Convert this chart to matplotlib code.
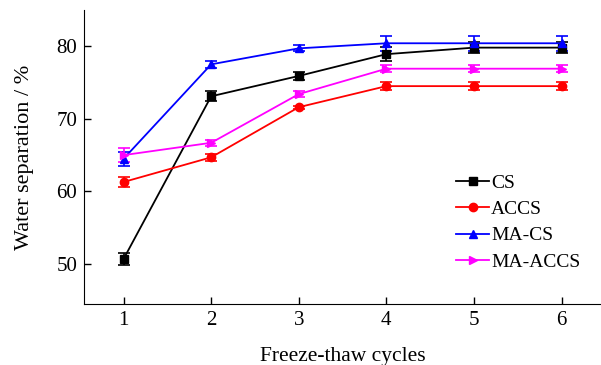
import matplotlib
matplotlib.use("Agg")
from matplotlib import pyplot as plt
from matplotlib.lines import Line2D

plt.rcParams.update({'font.family': 'Liberation Serif', 'font.size': 15,
                     'mathtext.default': 'regular'})

cycles = [1, 2, 3, 4, 5, 6]
cs = [50.7, 73.1, 75.9, 78.9, 79.8, 79.8]
cs_err = [0.8, 0.7, 0.5, 1.0, 0.8, 0.8]
accs = [61.3, 64.7, 71.6, 74.5, 74.5, 74.5]
accs_err = [0.7, 0.5, 0.2, 0.5, 0.5, 0.5]
ma_cs = [64.5, 77.5, 79.7, 80.4, 80.4, 80.4]
ma_cs_err = [1.0, 0.5, 0.4, 1.0, 1.0, 1.0]
ma_accs = [65.0, 66.7, 73.4, 76.9, 76.9, 76.9]
ma_accs_err = [1.0, 0.4, 0.4, 0.5, 0.5, 0.5]

fig = plt.figure(figsize=(6.01, 3.65), dpi=100)
ax = fig.add_axes([0.14, 0.167, 0.86, 0.806])

series = [
    (cs, cs_err, 'black', 's', 'CS'),
    (accs, accs_err, 'red', 'o', 'ACCS'),
    (ma_cs, ma_cs_err, 'blue', '^', 'MA-CS'),
    (ma_accs, ma_accs_err, 'magenta', '>', 'MA-ACCS'),
]
handles = []
for y, e, c, m, name in series:
    ax.errorbar(cycles, y, yerr=e, color=c, marker=m, markersize=6,
                linewidth=1.3, capsize=4, capthick=1.2, elinewidth=1.2)
    handles.append(Line2D([], [], color=c, marker=m, markersize=6,
                          linewidth=1.3, label=name))

ax.set_xlim(0.55, 6.45)
ax.set_ylim(44.5, 85)
ax.set_xticks(cycles)
ax.set_yticks([50, 60, 70, 80])
ax.tick_params(direction='in', length=5, width=1, pad=5)
for s in ['top', 'right']:
    ax.spines[s].set_visible(False)
ax.set_xlabel("Freeze-thaw cycles", fontsize=15.5, labelpad=12)
ax.set_ylabel("Water separation / %", fontsize=16, labelpad=16)

ax.legend(handles=handles, loc='lower right', bbox_to_anchor=(0.975, 0.087),
          frameon=False, fontsize=14, handlelength=1.7, handletextpad=0.1,
          labelspacing=0.45, borderaxespad=0)

fig.savefig("out.png", dpi=100)
